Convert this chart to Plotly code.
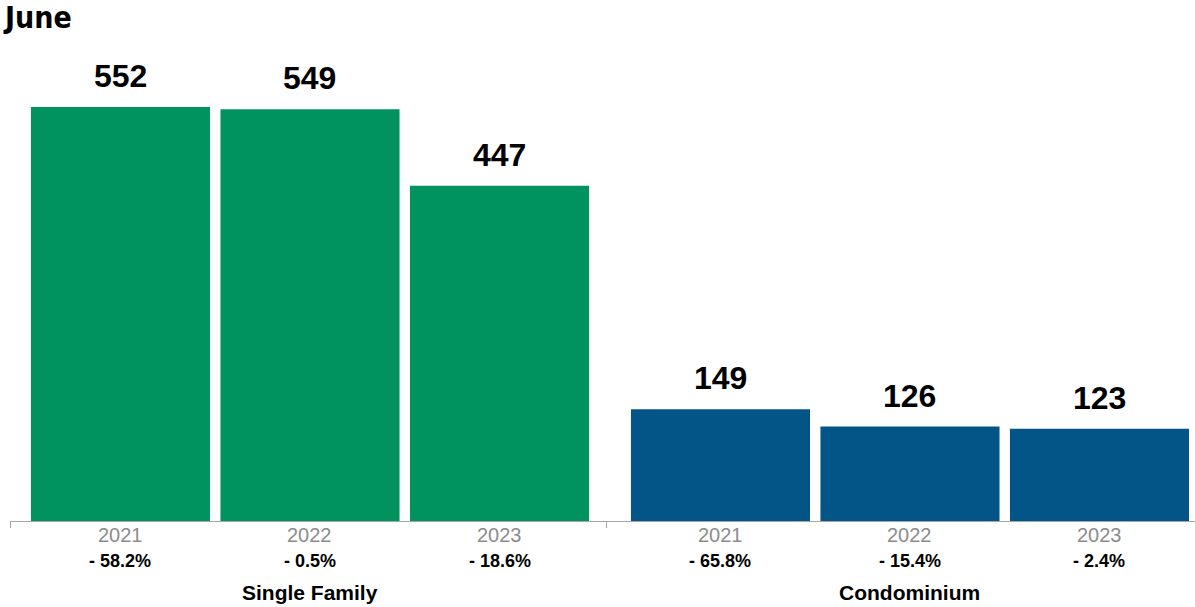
import plotly.graph_objects as go

# Closed sales, June: single family vs condominium
title = "June"
groups = ["Single Family", "Condominium"]
years = ["2021", "2022", "2023"]
single_family = [552, 549, 447]
condominium = [149, 126, 123]
sf_change = ["- 58.2%", "- 0.5%", "- 18.6%"]
condo_change = ["- 65.8%", "- 15.4%", "- 2.4%"]

colors = ["#01935f", "#025586"]

# layout of the bar slots on a continuous x axis (1 unit = one bar pitch)
bar_width = 0.945
group_offset = 3.166
x_left, x_right = -0.583, 5.670
group_divider = 2.567

W, H = 1195, 607
m_l, m_r, m_t, m_b = 10, 0, 30, 86
px_per_unit = 0.75
y_top = (H - m_t - m_b) / px_per_unit

fig = go.Figure()
annotations = []
series = [single_family, condominium]
changes = [sf_change, condo_change]
for g, (vals, chg) in enumerate(zip(series, changes)):
    xs = [g * group_offset + i for i in range(len(vals))]
    fig.add_trace(go.Bar(
        x=xs, y=vals, width=bar_width, marker=dict(color=colors[g], line=dict(width=0)),
        hoverinfo="skip", showlegend=False,
    ))
    for x, v in zip(xs, vals):
        annotations.append(dict(
            x=x, y=v, xref="x", yref="y", text=f"<b>{v}</b>", showarrow=False,
            yanchor="middle", yshift=31,
            font=dict(family="Liberation Sans, Arial", size=32, color="#000000"),
        ))
    for x, yr, c in zip(xs, years, chg):
        annotations.append(dict(
            x=x, y=0, xref="x", yref="y", text=yr, showarrow=False,
            yanchor="middle", yshift=-14,
            font=dict(family="Liberation Sans, Arial", size=20, color="#8c8c8c"),
        ))
        annotations.append(dict(
            x=x, y=0, xref="x", yref="y", text=f"<b>{c}</b>", showarrow=False,
            yanchor="middle", yshift=-40,
            font=dict(family="Liberation Sans, Arial", size=18, color="#000000"),
        ))
    annotations.append(dict(
        x=xs[1], y=0, xref="x", yref="y", text=f"<b>{groups[g]}</b>", showarrow=False,
        yanchor="middle", yshift=-71,
        font=dict(family="Liberation Sans, Arial", size=21, color="#000000"),
    ))

annotations.append(dict(
    x=0, y=1, xref="paper", yref="paper", xanchor="left", yanchor="middle",
    xshift=-9, yshift=13, text=f"<b>{title}</b>", showarrow=False,
    font=dict(family="Liberation Sans Narrow, DejaVu Sans Condensed, Arial", size=30, color="#000000"),
))

fig.update_layout(
    width=W, height=H,
    margin=dict(l=m_l, r=m_r, t=m_t, b=m_b),
    plot_bgcolor="white", paper_bgcolor="white",
    annotations=annotations,
    xaxis=dict(
        range=[x_left, x_right], showgrid=False, zeroline=False,
        showline=True, linecolor="#a6a6a6", linewidth=1,
        ticks="outside", ticklen=6, tickcolor="#a6a6a6", tickwidth=1,
        tickvals=[x_left, group_divider], showticklabels=False,
    ),
    yaxis=dict(range=[0, y_top], visible=False),
)

fig.write_html("out.html")
